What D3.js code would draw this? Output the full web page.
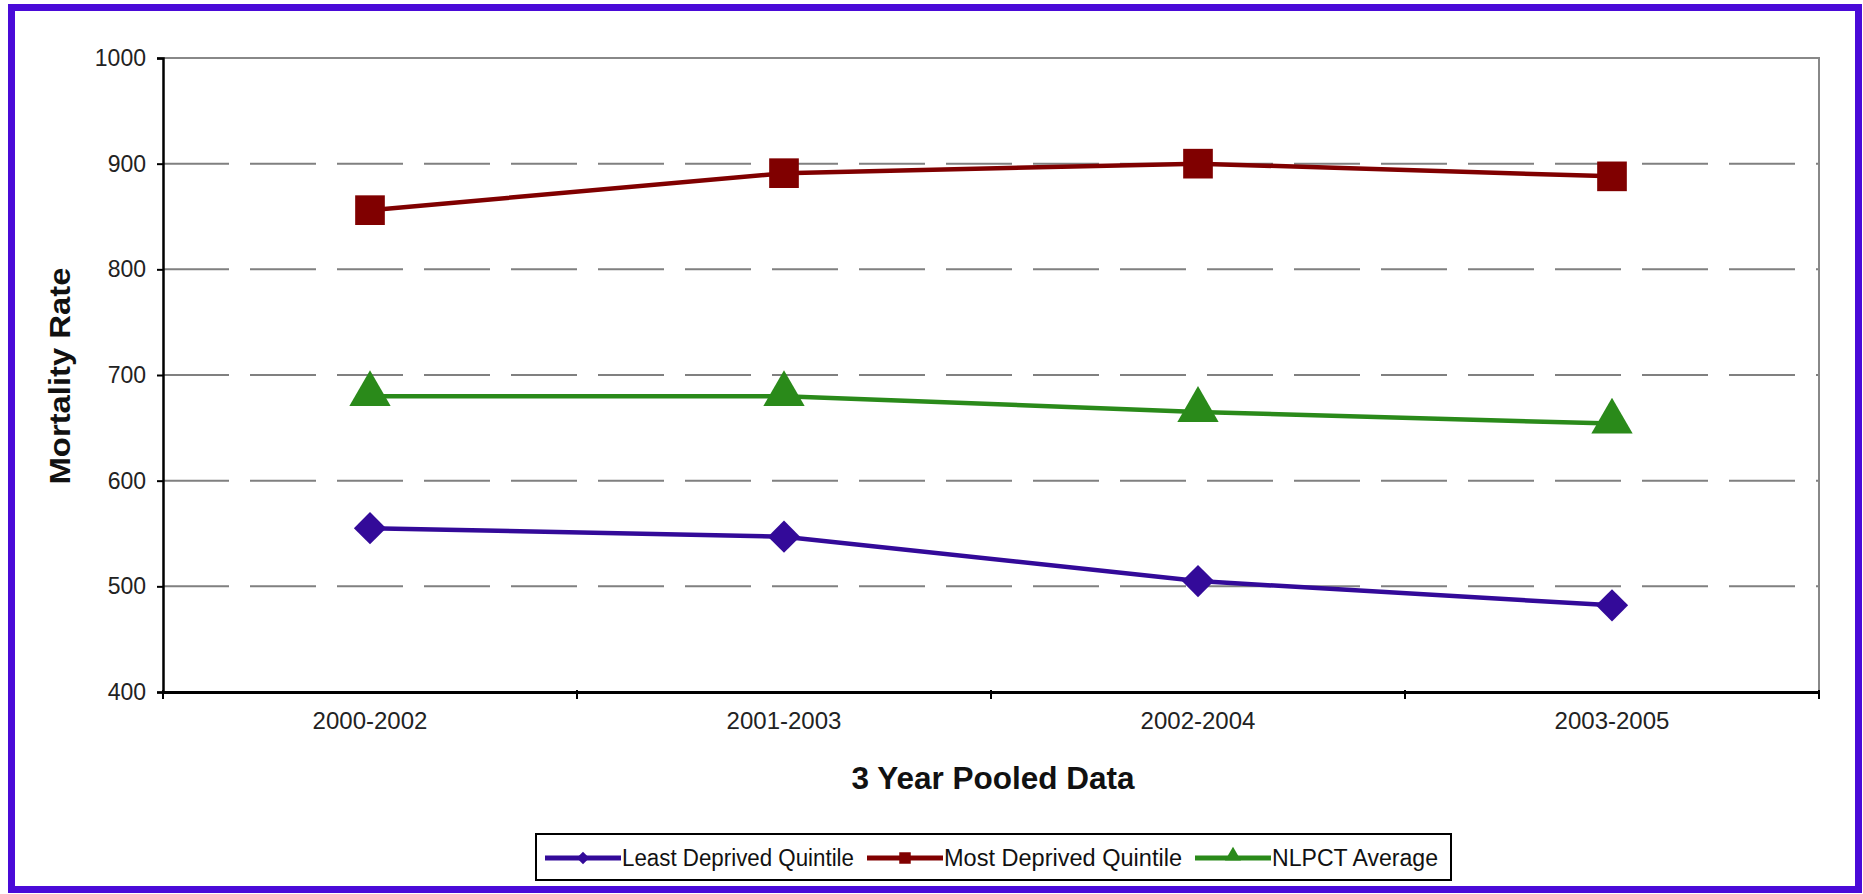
<!DOCTYPE html>
<html>
<head>
<meta charset="utf-8">
<script src="https://cdn.jsdelivr.net/npm/d3@7"></script>
<style>
  body { margin: 0; background: #fff; }
  text { font-family: "Liberation Sans", Arial, sans-serif; }
</style>
</head>
<body>
<div id="chart"></div>
<script>
// data
var periods = ["2000-2002", "2001-2003", "2002-2004", "2003-2005"];
var leastDeprived = [555, 547, 505, 482];
var mostDeprived = [856, 891, 900, 888];
var nlpctAverage = [680, 680, 665, 654];
var yTicks = [400, 500, 600, 700, 800, 900, 1000];

var seriesNames = ["Least Deprived Quintile", "Most Deprived Quintile", "NLPCT Average"];
var seriesColors = ["#330a99", "#800000", "#2a8a1a"];
var seriesValues = [leastDeprived, mostDeprived, nlpctAverage];

var svgWidth = 1863;
var svgHeight = 894;

var margin = { top: 58, right: 44, bottom: 202, left: 163 };
var width = svgWidth - margin.left - margin.right;
var height = svgHeight - margin.top - margin.bottom;

var svg = d3.select("#chart")
  .append("svg")
  .attr("width", svgWidth)
  .attr("height", svgHeight);

// purple frame
svg.append("rect")
  .attr("x", 11.5).attr("y", 7.5)
  .attr("width", 1847).attr("height", 882)
  .attr("fill", "none")
  .attr("stroke", "#4a0ad8")
  .attr("stroke-width", 7);

var chartGroup = svg.append("g")
  .attr("transform", `translate(${margin.left}, ${margin.top})`);

// scales
var xScale = d3.scaleBand().domain(periods).range([0, width]);
var yScale = d3.scaleLinear().domain([400, 1000]).range([height, 0]);

// gridlines
chartGroup.selectAll(".grid")
  .data(yTicks.filter(d => d > 400 && d < 1000))
  .enter()
  .append("line")
  .attr("x1", 0).attr("x2", width)
  .attr("y1", d => yScale(d)).attr("y2", d => yScale(d))
  .attr("stroke", "#808080")
  .attr("stroke-width", 2)
  .attr("stroke-dasharray", "66,21");

// plot border top/right
chartGroup.append("path")
  .attr("d", `M0,${yScale(1000)}H${width}V${height}`)
  .attr("fill", "none")
  .attr("stroke", "#888")
  .attr("stroke-width", 2);

// y axis
var leftAxis = d3.axisLeft(yScale).tickValues(yTicks).tickFormat(d3.format("d")).tickSize(6).tickPadding(11);
var yAxis = chartGroup.append("g").call(leftAxis);
yAxis.select(".domain").attr("stroke", "#000").attr("stroke-width", 2.5);
yAxis.selectAll(".tick line").attr("stroke", "#000").attr("stroke-width", 2);
yAxis.selectAll("text")
  .attr("font-size", "23px")
  .attr("fill", "#222")
  .attr("font-family", "Liberation Sans, Arial, sans-serif");

// x axis
var bottomAxis = d3.axisBottom(xScale).tickSize(0).tickPadding(20);
var xAxis = chartGroup.append("g")
  .attr("transform", `translate(0, ${height})`)
  .call(bottomAxis);
xAxis.select(".domain").attr("stroke", "#000").attr("stroke-width", 3);
xAxis.selectAll("text")
  .attr("font-size", "24px")
  .attr("fill", "#222")
  .attr("font-family", "Liberation Sans, Arial, sans-serif");

// x ticks at band boundaries
var boundaries = periods.map(p => xScale(p)).concat([width]);
chartGroup.selectAll(".xtick")
  .data(boundaries)
  .enter()
  .append("line")
  .attr("x1", d => d).attr("x2", d => d)
  .attr("y1", height - 2).attr("y2", height + 7)
  .attr("stroke", "#000")
  .attr("stroke-width", 2);

// marker drawing: diamond is a square turned 45 degrees
function marker(sel, s, scale) {
  if (s === 0) {
    sel.append("path")
      .attr("d", d3.symbol().type(d3.symbolSquare).size(520 * scale))
      .attr("transform", "rotate(45)");
  } else if (s === 1) {
    sel.append("path")
      .attr("d", d3.symbol().type(d3.symbolSquare).size(880 * scale));
  } else {
    sel.append("path")
      .attr("d", d3.symbol().type(d3.symbolTriangle).size(740 * scale))
      .attr("transform", "translate(0,-2)");
  }
  sel.selectAll("path").attr("fill", seriesColors[s]);
}

// lines and markers
var line = d3.line()
  .x((d, i) => xScale(periods[i]) + xScale.bandwidth() / 2)
  .y(d => yScale(d));

seriesValues.forEach(function(vals, s) {
  chartGroup.append("path")
    .datum(vals)
    .attr("d", line)
    .attr("fill", "none")
    .attr("stroke", seriesColors[s])
    .attr("stroke-width", 4.5);

  chartGroup.selectAll(".marker" + s)
    .data(vals)
    .enter()
    .append("g")
    .attr("transform", (d, i) => `translate(${xScale(periods[i]) + xScale.bandwidth() / 2}, ${yScale(d)})`)
    .each(function() { marker(d3.select(this), s, 1); });
});

// axis titles
svg.append("text")
  .attr("x", 993)
  .attr("y", 789)
  .attr("text-anchor", "middle")
  .attr("font-size", "32px")
  .attr("font-weight", "bold")
  .attr("fill", "#111")
  .attr("textLength", 283)
  .attr("lengthAdjust", "spacingAndGlyphs")
  .text("3 Year Pooled Data");

svg.append("text")
  .attr("transform", "translate(70, 376) rotate(-90)")
  .attr("text-anchor", "middle")
  .attr("font-size", "30px")
  .attr("font-weight", "bold")
  .attr("fill", "#111")
  .attr("textLength", 217)
  .attr("lengthAdjust", "spacingAndGlyphs")
  .text("Mortality Rate");

// legend
var legend = svg.append("g");
legend.append("rect")
  .attr("x", 536).attr("y", 834)
  .attr("width", 915).attr("height", 46)
  .attr("fill", "#fff")
  .attr("stroke", "#000")
  .attr("stroke-width", 2);

var legendX = [545, 867, 1195];
var legendTextLen = [232, 238, 166];
seriesNames.forEach(function(name, s) {
  var g = legend.append("g").attr("transform", `translate(${legendX[s]}, 858)`);
  g.append("line")
    .attr("x1", 0).attr("x2", 76)
    .attr("stroke", seriesColors[s])
    .attr("stroke-width", 5);
  var m = g.append("g").attr("transform", "translate(38,0)");
  marker(m, s, 0.15);
  g.append("text")
    .attr("x", 77)
    .attr("y", 8)
    .attr("font-size", "23px")
    .attr("fill", "#111")
    .attr("textLength", legendTextLen[s])
    .attr("lengthAdjust", "spacingAndGlyphs")
    .text(name);
});
</script>
</body>
</html>
